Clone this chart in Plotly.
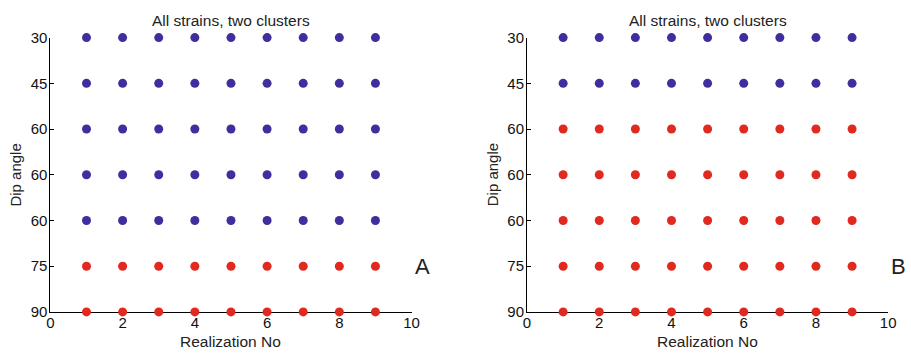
import plotly.graph_objects as go

# ---- data ----
realization = [1, 2, 3, 4, 5, 6, 7, 8, 9]
dip_labels = ["30", "45", "60", "60", "60", "75", "90"]
cluster_A = [1, 1, 1, 1, 1, 2, 2]   # cluster per dip row, panel A
cluster_B = [1, 1, 2, 2, 2, 2, 2]   # cluster per dip row, panel B
x_ticks = [0, 2, 4, 6, 8, 10]
panel_letters = ["A", "B"]
title_text = "All strains, two clusters"

colors = {1: "#3d2f9e", 2: "#e1291f"}
FONT = "Arial, Liberation Sans, sans-serif"

W, H = 911, 359
fig = go.Figure()

panels = [(cluster_A, "x", "y"), (cluster_B, "x2", "y2")]
for clusters, xa, ya in panels:
    for c in (1, 2):
        xs, ys = [], []
        for row, cl in enumerate(clusters):
            if cl == c:
                for r in realization:
                    xs.append(r)
                    ys.append(row)
        fig.add_trace(go.Scatter(
            x=xs, y=ys, mode="markers", xaxis=xa, yaxis=ya,
            marker=dict(color=colors[c], size=9, line=dict(width=0)),
            cliponaxis=False, showlegend=False, hoverinfo="skip"))

# pixel geometry
left_px = [(47, 413), (530, 896)]
top_px, bot_px = 30, 318


def px_x(p):
    return p / W


def px_y(p):
    return 1 - p / H


ax_common = dict(showline=True, linecolor="black", linewidth=1, mirror=False,
                 ticks="inside", ticklen=4, tickcolor="black", showgrid=False,
                 zeroline=False, layer="below traces",
                 tickfont=dict(family=FONT, size=15, color="#111111"))

ydom = [px_y(bot_px), px_y(top_px)]
layout = dict(width=W, height=H, margin=dict(l=0, r=0, t=0, b=0),
              paper_bgcolor="white", plot_bgcolor="white",
              font=dict(family=FONT, color="black"))

for i, (l, r) in enumerate(left_px):
    sfx = "" if i == 0 else str(i + 1)
    layout["xaxis" + sfx] = dict(ax_common, domain=[px_x(l), px_x(r)], range=[0, 10],
                                 tickvals=x_ticks, ticktext=[str(v) for v in x_ticks],
                                 ticklabelstandoff=-3, anchor="y" + sfx)
    layout["yaxis" + sfx] = dict(ax_common, domain=ydom, range=[6, 0],
                                 tickvals=list(range(len(dip_labels))), ticktext=dip_labels,
                                 ticklabelstandoff=-1, anchor="x" + sfx)

fig.update_layout(**layout)

annotations = []
for i, (l, r) in enumerate(left_px):
    cx = (l + r) / 2
    annotations.append(dict(text=title_text, x=px_x(cx), y=px_y(12), xref="paper", yref="paper",
                            showarrow=False, xanchor="center", yanchor="middle",
                            font=dict(family=FONT, size=15.5, color="#222222")))
    annotations.append(dict(text="Realization No", x=px_x(cx), y=px_y(339), xref="paper", yref="paper",
                            showarrow=False, xanchor="center", yanchor="top", borderpad=0,
                            font=dict(family=FONT, size=15.5, color="#222222")))
    annotations.append(dict(text="Dip angle", x=px_x(l - 35), y=px_y(174), xref="paper", yref="paper",
                            showarrow=False, xanchor="center", yanchor="middle", textangle=-90,
                            font=dict(family=FONT, size=15, color="#222222")))
    annotations.append(dict(text=panel_letters[i], x=px_x(r + 1), y=px_y(270), xref="paper", yref="paper",
                            showarrow=False, xanchor="left", yanchor="middle",
                            font=dict(family=FONT, size=22, color="#222222")))
fig.update_layout(annotations=annotations)

fig.write_html("out.html")
